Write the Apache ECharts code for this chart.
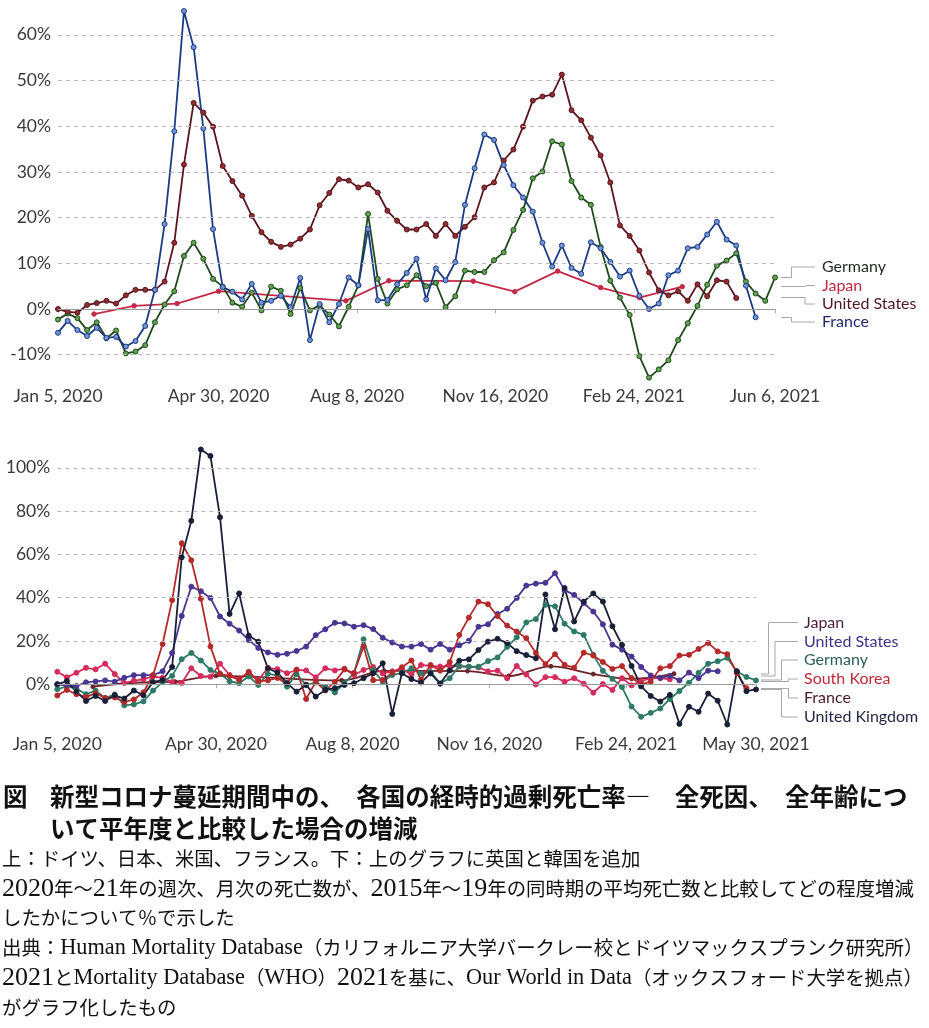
<!DOCTYPE html>
<html><head><meta charset="utf-8">
<script src="https://cdn.jsdelivr.net/npm/echarts@6/dist/echarts.min.js"></script>
<style>html,body{margin:0;padding:0;background:#fff}#c{width:929px;height:1028px}</style>
</head><body><div id="c"></div>
<script>
// ---- axis ticks (x = days since Jan 5, 2020) ----
const xTickDaysTop = [0, 116, 216, 316, 416, 518];
const xTickLabelsTop = ['Jan 5, 2020', 'Apr 30, 2020', 'Aug 8, 2020', 'Nov 16, 2020', 'Feb 24, 2021', 'Jun 6, 2021'];
const xTickDaysBottom = [0, 116, 216, 316, 416, 511];
const xTickLabelsBottom = ['Jan 5, 2020', 'Apr 30, 2020', 'Aug 8, 2020', 'Nov 16, 2020', 'Feb 24, 2021', 'May 30, 2021'];
const yTicksTop = [-10, 0, 10, 20, 30, 40, 50, 60];
const yTicksBottom = [0, 20, 40, 60, 80, 100];

// ---- weekly excess mortality (%), week 0 = Jan 5, 2020 ----
const germany = [-2.3, -1, -2, -4.6, -2.9, -6.4, -4.7, -9.7, -9.3, -7.9,
  -2.9, 1, 3.9, 11.6, 14.5, 11, 6.6, 4.9, 1.4, 0.5,
  3.6, -0.3, 4.9, 4, -1.1, 4.6, -0.3, 0.8, -1.2, -3.8,
  0.5, 5.2, 20.8, 6.6, 1.2, 4.3, 5.2, 7.4, 5, 5.7,
  0.4, 2.8, 8.4, 8.1, 8.1, 10.7, 12.4, 17.3, 21.7, 28.6,
  30.1, 36.7, 36, 28, 24.4, 22.8, 13.6, 6.2, 2.5, -1.3,
  -10.3, -15, -13.2, -11.2, -6.8, -3.1, 0.7, 5.3, 9.5, 10.6,
  12.2, 6, 3.4, 1.8, 6.9];
const france = [-5.2, -2.6, -4.6, -5.9, -4.1, -6.3, -6.1, -8.2, -7, -3.7,
  4.2, 18.6, 38.9, 65.2, 57.3, 39.5, 17.5, 4.8, 3.8, 2.1,
  5.5, 1.4, 1.8, 2.9, 0.4, 6.8, -6.8, 1.1, -2.9, 1.1,
  6.9, 5.2, 17.5, 1.9, 2, 5.4, 7.9, 11, 2.1, 8.9,
  6.3, 10.3, 22.8, 30.8, 38.2, 37, 31.5, 27.1, 24.4, 21.3,
  14.5, 9.3, 13.9, 9, 7.7, 14.6, 13.3, 10.3, 7.1, 8.4,
  2.9, 0, 1.2, 7.4, 8.4, 13.3, 13.6, 16.3, 19.1, 15.2,
  13.9, 5.1, -1.8];
const unitedStates = [0, -0.6, -0.8, 0.9, 1.3, 1.8, 1.2, 3, 4.2, 4.2,
  4.2, 6, 14.5, 31.6, 45.1, 43, 39.9, 31.3, 28, 24.8,
  20.4, 16.8, 14.7, 13.6, 14.1, 15.4, 17.4, 22.7, 25.4, 28.4,
  28.1, 26.6, 27.3, 25.5, 21.5, 19.3, 17.4, 17.4, 18.6, 16,
  18.6, 16, 18, 20.1, 26.6, 27.7, 32.5, 34.9, 39.9, 45.6,
  46.5, 46.9, 51.3, 43.5, 41.3, 37.5, 33.6, 27.7, 18.3, 16,
  12.8, 8, 4.1, 3, 3.9, 1.8, 5.4, 2.8, 6.3, 6,
  2.4];
const unitedKingdom = [0, 1.5, -3.4, -7.7, -5.4, -7.7, -5.1, -6.6, -2.9, -5.1,
  1, 2, 8, 58.7, 75.5, 108.5, 105.5, 77.2, 32.5, 42,
  22.5, 19.7, 7.4, 5.4, 0.5, -3.4, -0.3, -5.7, -2.6, -1.8,
  -0.3, 0.5, 2.8, 5.1, 9.7, -13.7, 5.1, 2.4, 0.8, 5,
  0.3, 6.4, 10.9, 11.5, 15.8, 19.7, 21, 19, 15.3, 13.5,
  12, 41.5, 25.4, 44.5, 29, 38.2, 42, 38.2, 26.8, 18.2,
  8.5, -1, -5.4, -8, -4.9, -18.3, -10.4, -12.7, -4.3, -7.6,
  -18.6, 6, -3.2, -2.4];
const southKorea = [5.8, 3.2, 5.3, 7.6, 6.9, 9.5, 4.7, 0.6, 1.6, 2.4,
  3.6, 3, 1, 0.6, 7.4, 3.8, 3.5, 9.5, 4.3, 2.3,
  5.8, 1.8, 7.6, 7, 5.1, 6.6, 6.4, 3.2, 7.4, 6.4,
  7.2, 4.3, 6.6, 8, 5, 6, 7, 4.5, 8.9, 8.5,
  8.2, 8.5, 8.3, 8.1, 7.8, 6, 6.3, 2.8, 8.5, 4.5,
  -0.1, 3.3, 3.3, 1.2, 2.8, 0.3, -3.9, 0.1, -2.6, 2.8,
  -0.5, 1.4, 2.8, 2.8, 2.3];
// ---- monthly (Japan), day offsets of month ends ----
const japanDays = [26, 55, 86, 116, 208, 239, 300, 330, 361, 392, 420, 451];
const japan = [-1.1, 0.7, 1.2, 3.9, 1.8, 6.2, 6.1, 3.8, 8.3, 4.7, 2.5, 4.9];

const weekly = (arr, maxDay) => arr.map((v, i) => [i * 7, v]).filter(p => maxDay == null || p[0] <= maxDay);
const monthly = () => japanDays.map((d, i) => [d, japan[i]]);

const chart = echarts.init(document.getElementById('c'), null, {renderer: 'canvas'});
const FONT = 'Lato';
const LBL = '#3a3a3a';

function xAxis(grid, max, days, labels) {
  return {
    type: 'value', gridIndex: grid, min: 0, max: max,
    axisLine: {show: false}, splitLine: {show: false},
    axisTick: {show: true, customValues: days, length: 4, lineStyle: {color: '#aaa'}},
    axisLabel: {customValues: days, margin: 10, fontFamily: FONT, fontSize: 17.5, color: LBL,
      formatter: v => labels[days.indexOf(Math.round(v))] || ''}
  };
}
function yAxis(grid, min, max, ticks) {
  return {
    type: 'value', gridIndex: grid, min: min, max: max,
    axisLine: {show: false}, axisTick: {show: false}, splitLine: {show: false},
    axisLabel: {customValues: ticks, margin: 7, fontFamily: FONT, fontSize: 17.5, color: LBL,
      formatter: v => Math.round(v) + '%'}
  };
}
function gridSeries(idx, ticks) {
  return {
    type: 'line', xAxisIndex: idx, yAxisIndex: idx, data: [[0, 0]], showSymbol: false,
    lineStyle: {opacity: 0}, z: 1, silent: true,
    markLine: {silent: true, symbol: 'none', label: {show: false}, animation: false,
      data: ticks.map(t => ({yAxis: t, lineStyle: t === 0 ? {color: '#9a9a9a', type: 'solid', width: 1}
                                                  : {color: '#b8b8b8', type: [4, 4], width: 1}}))}
  };
}
function line(idx, data, color, fill, opts) {
  return Object.assign({
    type: 'line', xAxisIndex: idx, yAxisIndex: idx, data: data, z: 3,
    symbol: 'circle', symbolSize: 5, showAllSymbol: true, animation: false,
    lineStyle: {color: color, width: 1.8},
    itemStyle: {color: fill, borderColor: color, borderWidth: 1}
  }, opts || {});
}

// legend connectors + labels (annotation)
const gfx = [];
function conn(pts) { gfx.push({type: 'polyline', shape: {points: pts}, style: {stroke: '#a8a8a8', lineWidth: 1, fill: null}, z: 5}); }
function lab(x, y, t, c) { gfx.push({type: 'text', x: x, y: y, style: {text: t, fill: c, font: '16px Lato', textVerticalAlign: 'middle'}, z: 5}); }

conn([[781, 277.5], [791.5, 277.5], [791.5, 267], [815, 267]]); lab(822, 267, 'Germany', '#1e2a1e');
conn([[781, 286.5], [805, 286.5], [807, 285.5], [815, 285.5]]); lab(822, 285.5, 'Japan', '#c0283e');
conn([[781, 297.5], [805, 297.5], [805, 304], [815, 304]]); lab(822, 304, 'United States', '#4e1523');
conn([[781, 317.5], [791.5, 317.5], [791.5, 322], [815, 322]]); lab(822, 322, 'France', '#1f2b6e');

conn([[761, 674], [768.5, 674], [768.5, 622.5], [798, 622.5]]); lab(804, 622.5, 'Japan', '#4b1f33');
conn([[761, 676], [775, 676], [775, 641.5], [798, 641.5]]); lab(804, 641.5, 'United States', '#3b3486');
conn([[761, 680], [781.5, 680], [781.5, 660], [798, 660]]); lab(804, 660, 'Germany', '#2c5f5c');
conn([[761, 681.5], [788.5, 681.5], [788.5, 679], [798, 679]]); lab(804, 679, 'South Korea', '#bf2a3c');
conn([[761, 688.5], [788.5, 688.5], [788.5, 698], [798, 698]]); lab(804, 698, 'France', '#4a1a28');
conn([[761, 689.5], [781.5, 689.5], [781.5, 717], [798, 717]]); lab(804, 717, 'United Kingdom', '#1f2540');

// caption (Japanese runs / Latin letters / digits styled separately)
function richLine(str) {
  const runs = str.match(/[0-9]+|[\x20-\x7e]+|[^\x20-\x7e]+/g) || [];
  return runs.map(r => /^[0-9]+$/.test(r) ? '{d|' + r + '}' : /^[\x20-\x7e]+$/.test(r) ? '{l|' + r + '}' : '{j|' + r + '}').join('');
}
function cap(x, y, str, size, bold) {
  const w = bold ? 'bold' : 'normal';
  gfx.push({type: 'text', x: x, y: y, z: 5, style: {
    text: richLine(str), textVerticalAlign: 'middle', fill: '#111',
    rich: {
      j: {fontFamily: 'Noto Sans CJK JP', fontSize: size, fontWeight: w, fill: '#111'},
      l: {fontFamily: bold ? 'Noto Sans CJK JP' : 'Liberation Serif', fontSize: bold ? size : 22.3, fontWeight: w, fill: '#111'},
      d: {fontFamily: bold ? 'Noto Sans CJK JP' : 'Liberation Serif', fontSize: bold ? size : 26, fontWeight: w, fill: '#111'}
    }}});
}
cap(3, 797, '図', 24.5, true);
cap(50, 797, '新型コロナ蔓延期間中の、\u3000各国の経時的過剰死亡率―\u3000全死因、\u3000全年齢につ', 24.5, true);
cap(50, 829, 'いて平年度と比較した場合の増減', 24.5, true);
cap(2, 859, '上：ドイツ、日本、米国、フランス。下：上のグラフに英国と韓国を追加', 19.4);
cap(2, 889, '2020年～21年の週次、月次の死亡数が、2015年～19年の同時期の平均死亡数と比較してどの程度増減', 19.4);
cap(2, 918, 'したかについて％で示した', 19.4);
cap(2, 948, '出典：Human Mortality Database（カリフォルニア大学バークレー校とドイツマックスプランク研究所）', 19.4);
cap(2, 978, '2021とMortality Database（WHO）2021を基に、Our World in Data（オックスフォード大学を拠点）', 19.4);
cap(2, 1008, 'がグラフ化したもの', 19.4);

chart.setOption({
  animation: false,
  grid: [
    {left: 58, right: 154, top: 7.4, height: 370.2},
    {left: 57.3, right: 173, top: 446.2, height: 279.2}
  ],
  xAxis: [xAxis(0, 518, xTickDaysTop, xTickLabelsTop), xAxis(1, 511, xTickDaysBottom, xTickLabelsBottom)],
  yAxis: [yAxis(0, -15, 66, yTicksTop), yAxis(1, -19, 110, yTicksBottom)],
  series: [
    gridSeries(0, [-10, 10, 20, 30, 40, 50, 60, 0]),
    gridSeries(1, [20, 40, 60, 80, 100, 0]),
    // top
    line(0, monthly(), '#c42a48', '#c42a48', {symbolSize: 4.5}),
    line(0, weekly(germany), '#1f4a1c', '#62a052'),
    line(0, weekly(unitedStates), '#5a161c', '#8e2d33'),
    line(0, weekly(france), '#1b3a82', '#7294d6'),
    // bottom
    line(1, monthly(), '#6a2428', '#6a2428', {smooth: 0.4, symbolSize: 4}),
    line(1, weekly(southKorea), '#d42c5c', '#d42c5c'),
    line(1, weekly(germany, 511), '#2d7a66', '#2d7a66'),
    line(1, weekly(unitedStates, 483), '#4a3592', '#4a3592'),
    line(1, weekly(france), '#b42a2a', '#b42a2a'),
    line(1, weekly(unitedKingdom), '#1a1f38', '#1a1f38')
  ],
  graphic: gfx
});
</script></body></html>
